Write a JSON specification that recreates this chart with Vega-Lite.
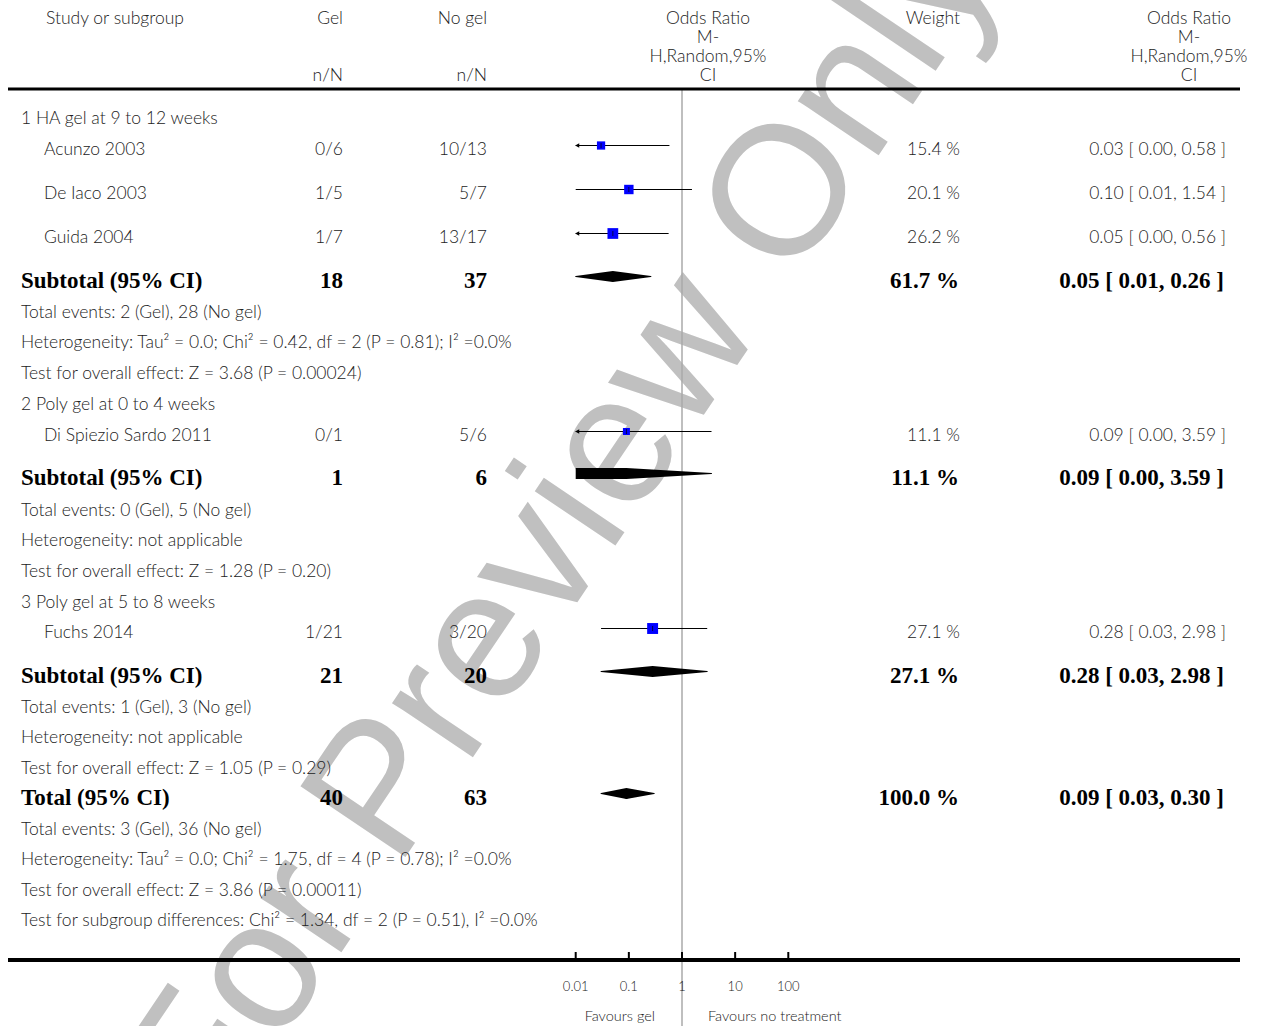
{
  "$schema": "https://vega.github.io/schema/vega-lite/v6.json",
  "width": 1266,
  "height": 1026,
  "autosize": "none",
  "padding": 0,
  "background": "white",
  "config": {
    "view": {"stroke": null},
    "text": {"font": "Lato", "fontWeight": 300, "fontSize": 17.5, "color": "#222222", "baseline": "middle"}
  },
  "datasets": {
    "header": [
      {"line": 0, "study": "Study or subgroup", "gel": "Gel", "nogel": "No gel", "orh": "Odds Ratio", "weight": "Weight"},
      {"line": 1, "orh": "M-"},
      {"line": 2, "orh": "H,Random,95%"},
      {"line": 3, "gel": "n/N", "nogel": "n/N", "orh": "CI"}
    ],
    "rows": [
      {"line": 5, "kind": "group", "label": "1 HA gel at 9 to 12 weeks"},
      {"line": 6, "kind": "study", "label": "Acunzo 2003", "gel": "0/6", "nogel": "10/13", "weight": 15.4, "or": 0.03, "lo": 0.0015, "hi": 0.58},
      {"line": 7, "kind": "study", "label": "De Iaco 2003", "gel": "1/5", "nogel": "5/7", "weight": 20.1, "or": 0.10, "lo": 0.01, "hi": 1.54},
      {"line": 8, "kind": "study", "label": "Guida 2004", "gel": "1/7", "nogel": "13/17", "weight": 26.2, "or": 0.05, "lo": 0.0044, "hi": 0.56},
      {"line": 9, "kind": "pooled", "label": "Subtotal (95% CI)", "gel": "18", "nogel": "37", "weight": 61.7, "or": 0.05, "lo": 0.01, "hi": 0.26},
      {"line": 10, "kind": "info", "label": "Total events: 2 (Gel), 28 (No gel)"},
      {"line": 11, "kind": "info", "label": "Heterogeneity: Tau² = 0.0; Chi² = 0.42, df = 2 (P = 0.81); I² =0.0%"},
      {"line": 12, "kind": "info", "label": "Test for overall effect: Z = 3.68 (P = 0.00024)"},
      {"line": 13, "kind": "group", "label": "2 Poly gel at 0 to 4 weeks"},
      {"line": 14, "kind": "study", "label": "Di Spiezio Sardo 2011", "gel": "0/1", "nogel": "5/6", "weight": 11.1, "or": 0.09, "lo": 0.0022, "hi": 3.59},
      {"line": 15, "kind": "pooled", "label": "Subtotal (95% CI)", "gel": "1", "nogel": "6", "weight": 11.1, "or": 0.09, "lo": 0.0022, "hi": 3.59},
      {"line": 16, "kind": "info", "label": "Total events: 0 (Gel), 5 (No gel)"},
      {"line": 17, "kind": "info", "label": "Heterogeneity: not applicable"},
      {"line": 18, "kind": "info", "label": "Test for overall effect: Z = 1.28 (P = 0.20)"},
      {"line": 19, "kind": "group", "label": "3 Poly gel at 5 to 8 weeks"},
      {"line": 20, "kind": "study", "label": "Fuchs 2014", "gel": "1/21", "nogel": "3/20", "weight": 27.1, "or": 0.28, "lo": 0.03, "hi": 2.98},
      {"line": 21, "kind": "pooled", "label": "Subtotal (95% CI)", "gel": "21", "nogel": "20", "weight": 27.1, "or": 0.28, "lo": 0.03, "hi": 2.98},
      {"line": 22, "kind": "info", "label": "Total events: 1 (Gel), 3 (No gel)"},
      {"line": 23, "kind": "info", "label": "Heterogeneity: not applicable"},
      {"line": 24, "kind": "info", "label": "Test for overall effect: Z = 1.05 (P = 0.29)"},
      {"line": 25, "kind": "pooled", "label": "Total (95% CI)", "gel": "40", "nogel": "63", "weight": 100.0, "or": 0.09, "lo": 0.03, "hi": 0.30},
      {"line": 26, "kind": "info", "label": "Total events: 3 (Gel), 36 (No gel)"},
      {"line": 27, "kind": "info", "label": "Heterogeneity: Tau² = 0.0; Chi² = 1.75, df = 4 (P = 0.78); I² =0.0%"},
      {"line": 28, "kind": "info", "label": "Test for overall effect: Z = 3.86 (P = 0.00011)"},
      {"line": 29, "kind": "info", "label": "Test for subgroup differences: Chi² = 1.34, df = 2 (P = 0.51), I² =0.0%"}
    ],
    "ticks": [{"v": 0.01}, {"v": 0.1}, {"v": 1}, {"v": 10}, {"v": 100}]
  },
  "resolve": {"scale": {"size": "independent"}},
  "layer": [
    {
      "data": {"values": [{"wm": "For Preview Only"}]},
      "mark": {"type": "text", "font": "Liberation Sans", "fontWeight": "normal", "fontSize": 184, "color": "#c0c0c0", "angle": -56, "align": "center", "baseline": "middle"},
      "encoding": {
        "text": {"field": "wm"},
        "x": {"value": 563},
        "y": {"value": 525}
      }
    },
    {
      "data": {"values": [{}]},
      "mark": {"type": "rule", "color": "#aaaaaa", "strokeWidth": 1.5},
      "encoding": {
        "x": {"datum": 1, "type": "quantitative", "axis": null, "scale": {"type": "log", "domain": [0.01, 100], "range": [575.7, 788.3], "clamp": true, "nice": false}},
        "y": {"datum": 4, "type": "quantitative", "axis": null, "scale": {"domain": [0,1,2,3,4,5,6,7,8,9,10,11,12,13,14,15,16,17,18,19,20,21,22,23,24,25,26,27,28,29,30,31,32], "range": [19,38,57,76,89,119,150,194,238,281,313,343,374,405,436,478,511,541,572,603,633,676,708,738,769,798,830,860,891,921,960,987,1017], "nice": false, "zero": false}},
        "y2": {"value": "height"}
      }
    },
    {
      "data": {"values": [{}]},
      "mark": {"type": "rule", "color": "black", "strokeWidth": 3},
      "encoding": {
        "x": {"value": 8},
        "x2": {"value": 1240},
        "y": {"datum": 4, "type": "quantitative"}
      }
    },
    {
      "data": {"values": [{}]},
      "mark": {"type": "rule", "color": "black", "strokeWidth": 4},
      "encoding": {
        "x": {"value": 8},
        "x2": {"value": 1240},
        "y": {"datum": 30, "type": "quantitative"}
      }
    },
    {
      "data": {"name": "header"},
      "encoding": {"y": {"field": "line", "type": "quantitative"}},
      "layer": [
        {"transform": [{"filter": "isValid(datum.study)"}], "mark": {"type": "text", "align": "left"}, "encoding": {"text": {"field": "study"}, "x": {"value": 46}}},
        {"transform": [{"filter": "isValid(datum.gel)"}], "mark": {"type": "text", "align": "right"}, "encoding": {"text": {"field": "gel"}, "x": {"value": 343}}},
        {"transform": [{"filter": "isValid(datum.nogel)"}], "mark": {"type": "text", "align": "right"}, "encoding": {"text": {"field": "nogel"}, "x": {"value": 487}}},
        {"transform": [{"filter": "isValid(datum.orh)"}], "mark": {"type": "text", "align": "center"}, "encoding": {"text": {"field": "orh"}, "x": {"value": 708}}},
        {"transform": [{"filter": "isValid(datum.weight)"}], "mark": {"type": "text", "align": "right"}, "encoding": {"text": {"field": "weight"}, "x": {"value": 960}}},
        {"transform": [{"filter": "isValid(datum.orh)"}], "mark": {"type": "text", "align": "center"}, "encoding": {"text": {"field": "orh"}, "x": {"value": 1189}}}
      ]
    },
    {
      "data": {"name": "rows"},
      "transform": [
        {"calculate": "isValid(datum.weight) ? format(datum.weight, '.1f') + ' %' : ''", "as": "wtext"},
        {"calculate": "isValid(datum.or) ? format(datum.or, '.2f') + ' [ ' + format(datum.lo, '.2f') + ', ' + format(datum.hi, '.2f') + ' ]' : ''", "as": "citext"}
      ],
      "encoding": {"y": {"field": "line", "type": "quantitative"}},
      "resolve": {"scale": {"size": "independent"}},
      "layer": [
        {"transform": [{"filter": "datum.kind === 'group' || datum.kind === 'info'"}], "mark": {"type": "text", "align": "left"}, "encoding": {"text": {"field": "label"}, "x": {"value": 21}}},
        {
          "transform": [{"filter": "datum.kind === 'study'"}],
          "layer": [
            {"mark": {"type": "text", "align": "left"}, "encoding": {"text": {"field": "label"}, "x": {"value": 44}}},
            {"mark": {"type": "text", "align": "right"}, "encoding": {"text": {"field": "gel"}, "x": {"value": 343}}},
            {"mark": {"type": "text", "align": "right"}, "encoding": {"text": {"field": "nogel"}, "x": {"value": 487}}},
            {"mark": {"type": "text", "align": "right"}, "encoding": {"text": {"field": "wtext"}, "x": {"value": 960}}},
            {"mark": {"type": "text", "align": "right"}, "encoding": {"text": {"field": "citext"}, "x": {"value": 1226}}},
            {
              "mark": {"type": "rule", "color": "black", "strokeWidth": 1.2, "yOffset": -4.5},
              "encoding": {
                "x": {"field": "lo", "type": "quantitative", "axis": null, "scale": {"type": "log", "domain": [0.01, 100], "range": [575.7, 788.3], "clamp": true, "nice": false}},
                "x2": {"field": "hi"}
              }
            },
            {
              "transform": [{"filter": "datum.lo < 0.01"}],
              "mark": {"type": "point", "shape": "triangle-left", "filled": true, "color": "black", "opacity": 1, "size": 22, "xOffset": 1.5, "yOffset": -4.5},
              "encoding": {
                "x": {"field": "lo", "type": "quantitative", "axis": null, "scale": {"type": "log", "domain": [0.01, 100], "range": [575.7, 788.3], "clamp": true, "nice": false}}
              }
            },
            {
              "mark": {"type": "point", "shape": "square", "filled": true, "color": "#0000ff", "opacity": 1, "yOffset": -4.5},
              "encoding": {
                "x": {"field": "or", "type": "quantitative", "axis": null, "scale": {"type": "log", "domain": [0.01, 100], "range": [575.7, 788.3], "clamp": true, "nice": false}},
                "size": {"field": "weight", "type": "quantitative", "scale": {"type": "linear", "domain": [0, 100], "range": [0, 441], "zero": true}, "legend": null}
              }
            },
            {
              "mark": {"type": "tick", "orient": "vertical", "color": "black", "size": 5, "thickness": 1, "yOffset": -4.5},
              "encoding": {
                "x": {"field": "or", "type": "quantitative", "axis": null, "scale": {"type": "log", "domain": [0.01, 100], "range": [575.7, 788.3], "clamp": true, "nice": false}}
              }
            }
          ]
        },
        {
          "transform": [{"filter": "datum.kind === 'pooled'"}],
          "layer": [
            {"mark": {"type": "text", "align": "left", "font": "Liberation Serif", "fontWeight": "bold", "fontSize": 23, "color": "black"}, "encoding": {"text": {"field": "label"}, "x": {"value": 21}}},
            {"mark": {"type": "text", "align": "right", "font": "Liberation Serif", "fontWeight": "bold", "fontSize": 23, "color": "black"}, "encoding": {"text": {"field": "gel"}, "x": {"value": 343}}},
            {"mark": {"type": "text", "align": "right", "font": "Liberation Serif", "fontWeight": "bold", "fontSize": 23, "color": "black"}, "encoding": {"text": {"field": "nogel"}, "x": {"value": 487}}},
            {"mark": {"type": "text", "align": "right", "font": "Liberation Serif", "fontWeight": "bold", "fontSize": 23, "color": "black"}, "encoding": {"text": {"field": "wtext"}, "x": {"value": 959}}},
            {"mark": {"type": "text", "align": "right", "font": "Liberation Serif", "fontWeight": "bold", "fontSize": 23, "color": "black"}, "encoding": {"text": {"field": "citext"}, "x": {"value": 1224}}},
            {
              "transform": [{"filter": "datum.lo < 0.01"}],
              "mark": {"type": "rule", "color": "black", "strokeWidth": 11, "strokeCap": "butt", "yOffset": -4.5},
              "encoding": {
                "x": {"field": "lo", "type": "quantitative", "axis": null, "scale": {"type": "log", "domain": [0.01, 100], "range": [575.7, 788.3], "clamp": true, "nice": false}},
                "x2": {"field": "or"}
              }
            },
            {
              "transform": [
                {"fold": ["lo", "or", "hi"], "as": ["part", "val"]},
                {"filter": "!(datum.part === 'lo' && datum.val < 0.01)"},
                {"calculate": "datum.part === 'or' ? 1 : 0", "as": "thick"}
              ],
              "mark": {"type": "trail", "color": "black", "yOffset": -4.5},
              "encoding": {
                "x": {"field": "val", "type": "quantitative", "axis": null, "scale": {"type": "log", "domain": [0.01, 100], "range": [575.7, 788.3], "clamp": true, "nice": false}},
                "detail": {"field": "line", "type": "nominal"},
                "order": {"field": "val", "type": "quantitative"},
                "size": {"field": "thick", "type": "quantitative", "scale": {"domain": [0, 1], "range": [0, 11], "zero": true}, "legend": null}
              }
            }
          ]
        }
      ]
    },
    {
      "data": {"name": "ticks"},
      "layer": [
        {
          "mark": {"type": "rule", "color": "black", "strokeWidth": 2, "yOffset": -8},
          "encoding": {
            "x": {"field": "v", "type": "quantitative", "axis": null, "scale": {"type": "log", "domain": [0.01, 100], "range": [575.7, 788.3], "clamp": true, "nice": false}},
            "y": {"datum": 30, "type": "quantitative"},
            "y2": {"datum": 30}
          }
        },
        {
          "mark": {"type": "text", "align": "center", "fontSize": 13},
          "encoding": {
            "x": {"field": "v", "type": "quantitative", "axis": null, "scale": {"type": "log", "domain": [0.01, 100], "range": [575.7, 788.3], "clamp": true, "nice": false}},
            "y": {"datum": 31, "type": "quantitative"},
            "text": {"field": "v", "type": "quantitative", "format": "~g"}
          }
        }
      ]
    },
    {
      "data": {"values": [{"t": "Favours gel"}]},
      "mark": {"type": "text", "align": "right", "fontSize": 14.5, "dx": -27},
      "encoding": {
        "x": {"datum": 1, "type": "quantitative", "axis": null, "scale": {"type": "log", "domain": [0.01, 100], "range": [575.7, 788.3], "clamp": true, "nice": false}},
        "y": {"datum": 32, "type": "quantitative"},
        "text": {"field": "t"}
      }
    },
    {
      "data": {"values": [{"t": "Favours no treatment"}]},
      "mark": {"type": "text", "align": "left", "fontSize": 14.5, "dx": 26},
      "encoding": {
        "x": {"datum": 1, "type": "quantitative", "axis": null, "scale": {"type": "log", "domain": [0.01, 100], "range": [575.7, 788.3], "clamp": true, "nice": false}},
        "y": {"datum": 32, "type": "quantitative"},
        "text": {"field": "t"}
      }
    }
  ]
}
